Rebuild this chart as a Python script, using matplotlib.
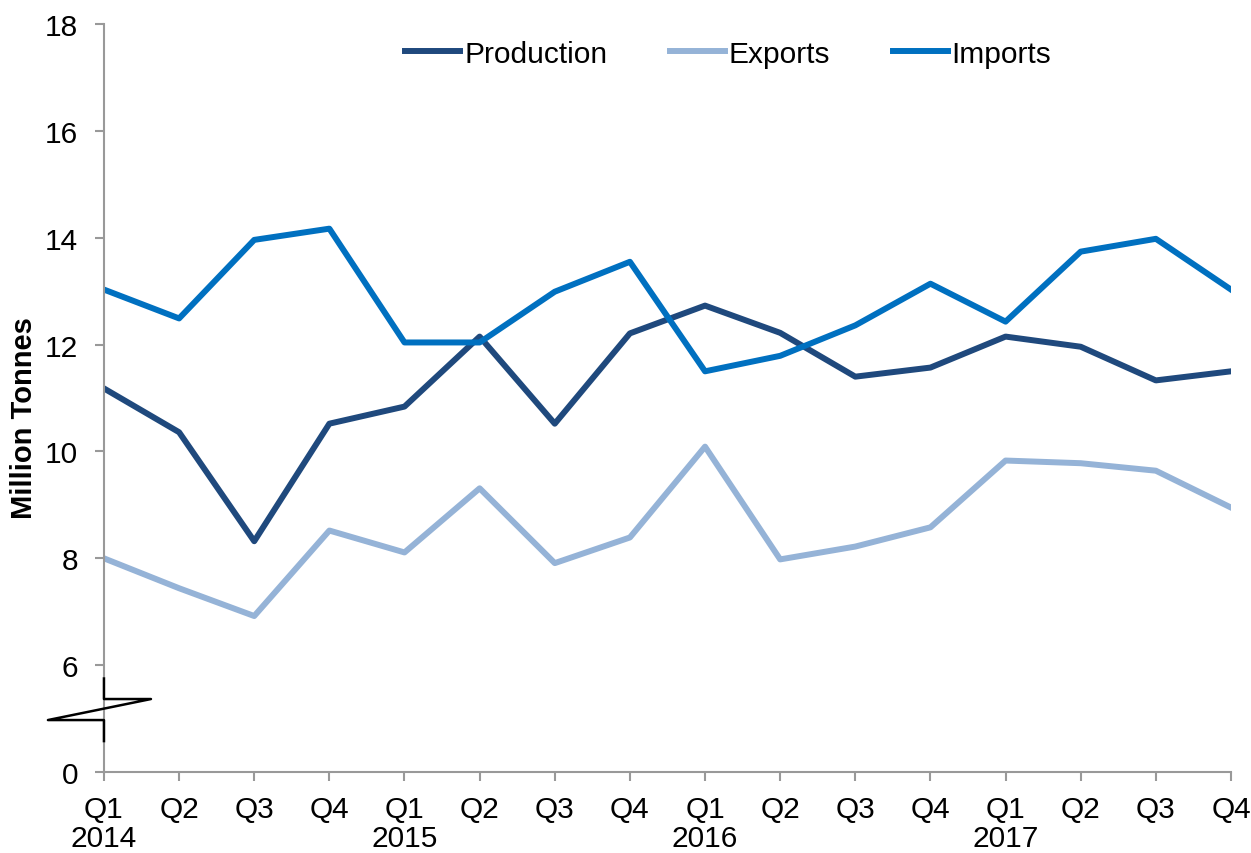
import matplotlib.pyplot as plt
from matplotlib.patches import Rectangle

plt.rcParams['font.family'] = ['Liberation Sans', 'DejaVu Sans']

quarters = ["Q1\n2014", "Q2", "Q3", "Q4", "Q1\n2015", "Q2", "Q3", "Q4",
            "Q1\n2016", "Q2", "Q3", "Q4", "Q1\n2017", "Q2", "Q3", "Q4"]
production = [11.18, 10.36, 8.32, 10.52, 10.84, 12.15, 10.52, 12.21,
              12.73, 12.22, 11.40, 11.57, 12.15, 11.96, 11.33, 11.50]
exports = [8.00, 7.44, 6.92, 8.52, 8.11, 9.31, 7.91, 8.39,
           10.09, 7.98, 8.22, 8.58, 9.83, 9.78, 9.64, 8.95]
imports = [13.03, 12.49, 13.96, 14.17, 12.04, 12.04, 12.99, 13.55,
           11.50, 11.79, 12.36, 13.14, 12.43, 13.74, 13.98, 13.03]
ytick_vals = [4, 6, 8, 10, 12, 14, 16, 18]
ytick_labels = ["0", "6", "8", "10", "12", "14", "16", "18"]

fig = plt.figure(figsize=(12.51, 8.54), dpi=100)
ax = fig.add_axes([0.0831, 0.0948, 0.9009, 0.8759])

x = range(len(quarters))
ax.plot(x, production, color="#1F497D", lw=4.3, label="Production")
ax.plot(x, exports, color="#95B3D7", lw=4.3, label="Exports")
ax.plot(x, imports, color="#0070C0", lw=4.3, label="Imports")

ax.set_xlim(0, len(quarters) - 1)
ax.set_ylim(4, 18)
ax.set_xticks(list(x))
ax.set_xticklabels(quarters, fontsize=21.5, linespacing=1.05)
ax.set_yticks(ytick_vals)
ax.set_yticklabels(ytick_labels, fontsize=21.5)
ax.tick_params(axis="both", direction="out", length=6.5, width=1.5, color="#999999")
ax.tick_params(axis="y", pad=12)
ax.tick_params(axis="x", pad=10)

for s in ["top", "right"]:
    ax.spines[s].set_visible(False)
for s in ["left", "bottom"]:
    ax.spines[s].set_color("#999999")
    ax.spines[s].set_linewidth(1.5)

ax.set_ylabel("Million Tonnes", fontsize=21, fontweight="bold")
ax.yaxis.set_label_coords(-0.0586, 0.4746)

# axis break symbol (in axes fraction coordinates)
tr = ax.transAxes
ax.add_patch(Rectangle((-0.01, 0.0983), 0.02, 0.028, transform=tr, facecolor="white",
                       edgecolor="none", clip_on=False, zorder=5))
ax.plot([0, 0, 0.0417, -0.0497, 0, 0], [0.125, 0.0976, 0.0976, 0.0695, 0.0695, 0.0414],
        transform=tr, color="black", lw=1.8, clip_on=False, zorder=6)

ax.legend(loc="center", bbox_to_anchor=(0.554, 0.960), ncol=3, frameon=False,
          fontsize=21.5, handlelength=1.85, handletextpad=0.12, columnspacing=2.1)

fig.savefig("out.png", dpi=100)
